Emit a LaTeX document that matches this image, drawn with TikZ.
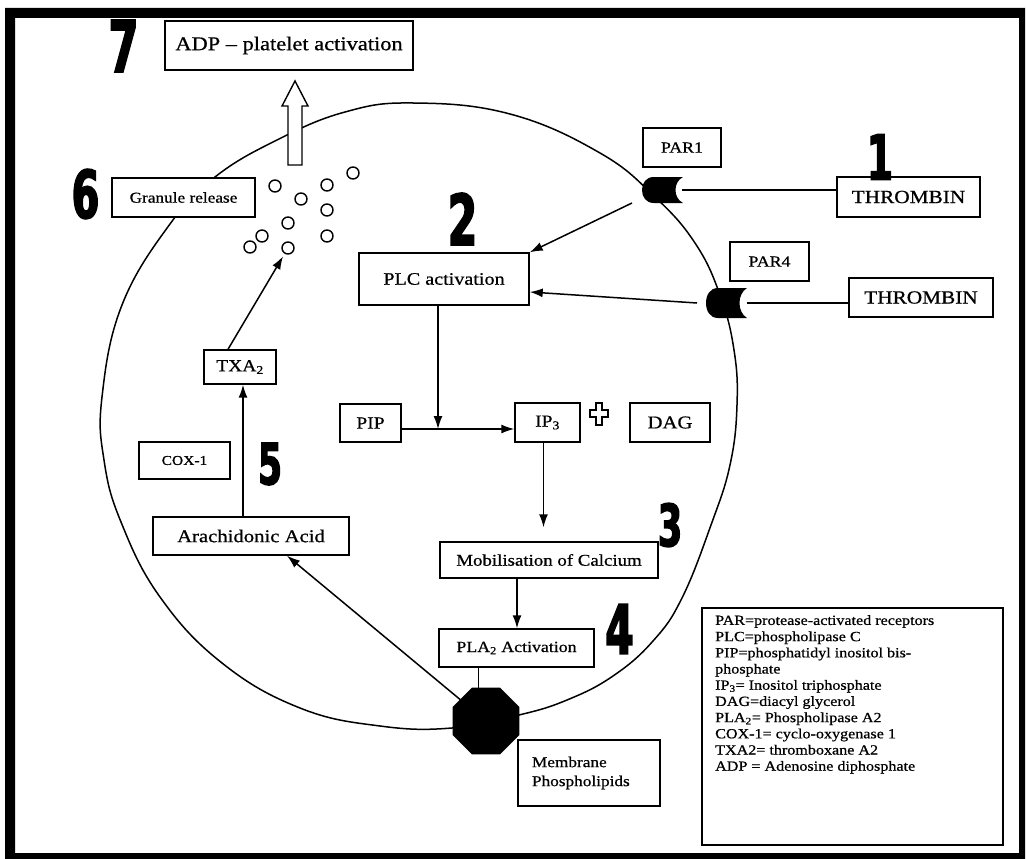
\documentclass[tikz,border=0pt]{standalone}
\usepackage{fontspec}
\setmainfont{Liberation Serif}[FakeStretch=1.15, FakeBold=0.7]
\newfontfamily\numfont{DejaVu Sans}[FakeStretch=0.6, FakeBold=2.5]
\usetikzlibrary{arrows.meta,shapes.geometric}
\newcommand\fs[1]{\fontsize{#1}{#1}\selectfont}
\begin{document}
\begin{tikzpicture}[x=1pt,y=-1pt,
  box/.style={draw, fill=white, line width=1.4pt, inner sep=0pt, align=center},
  arr/.style={-{Latex[length=13pt,width=9pt]}, line width=1.5pt},
  plain/.style={line width=1.5pt},
  gran/.style={circle, draw, line width=1.4pt, minimum size=12pt, inner sep=0pt},
  bignum/.style={inner sep=0pt, font={\numfont\bfseries\fs{#1}}}]
\useasboundingbox (0,0) rectangle (1026,859);
\fill[white] (0,0) rectangle (1026,859);
% frame
\fill[black, even odd rule] (5,8) rectangle (1025,859) (15,18) rectangle (1019,853);

% cell membrane
\draw[line width=1.5pt] plot[smooth cycle, tension=0.7] coordinates {
 (413,103) (510,114) (600,153) (655,197) (695,243) (720,295) (734,350) (737,405)
 (730,465) (711,525) (682,598) (653,641) (613,676) (567,700) (519,715) (452,728)
 (380,726) (300,708) (222,663) (160,597) (121,522) (104,460) (102,397) (122,305)
 (170,224) (215,177) (277,140) (345,112)};

% receptors
\fill (683,177) -- (654,177) .. controls (646,177) and (642,183) .. (642,190)
  .. controls (642,197) and (646,203) .. (654,203) -- (683,203)
  .. controls (673,198) and (673,182) .. (683,177) -- cycle;
\fill (747,288) -- (718,288) .. controls (710,288) and (706,295) .. (706,303)
  .. controls (706,311) and (710,318) .. (718,318) -- (747,318)
  .. controls (737,312) and (737,294) .. (747,288) -- cycle;
\coordinate (r1out) at (682,190);
\coordinate (r1in) at (632,203);
\coordinate (r4out) at (747,303);
\coordinate (r4in) at (697,303);

% boxes
\node[box, minimum width=248pt, minimum height=49pt, font=\fs{19.5}] (adp) at (289,45.5) {ADP – platelet activation};
\node[box, minimum width=143pt, minimum height=39pt, font=\fs{15}] (gran) at (183.5,197.5) {Granule release};
\node[box, minimum width=78pt, minimum height=39pt, font=\fs{15.5}] (par1) at (682,147.5) {PAR1};
\node[box, minimum width=143pt, minimum height=40pt, font=\fs{18.5}] (thr1) at (908.5,197) {THROMBIN};
\node[box, minimum width=79pt, minimum height=39pt, font=\fs{15.5}] (par4) at (769.5,261.5) {PAR4};
\node[box, minimum width=144pt, minimum height=39pt, font=\fs{18.5}] (thr2) at (921,297.5) {THROMBIN};
\node[box, minimum width=170pt, minimum height=52pt, font=\fs{17.5}] (plc) at (444,279) {PLC activation};
\node[box, minimum width=72pt, minimum height=34pt, font=\fs{17}] (txa) at (240,367) {TXA\textsubscript{2}};
\node[box, minimum width=91pt, minimum height=37pt, font=\fs{13.5}] (cox) at (184.5,460.5) {COX-1};
\node[box, minimum width=196pt, minimum height=38pt, font=\fs{18}] (arach) at (251,536) {Arachidonic Acid};
\node[box, minimum width=61pt, minimum height=38pt, font=\fs{17}] (pip) at (370.5,423) {PIP};
\node[box, minimum width=65pt, minimum height=39pt, font=\fs{17}] (ip3) at (547.5,422.5) {IP\textsubscript{3}};
\node[box, minimum width=80pt, minimum height=39pt, font=\fs{18}] (dag) at (670,422.5) {DAG};
\node[box, minimum width=218pt, minimum height=36pt, font=\fs{16.4}] (mob) at (549,560) {Mobilisation of Calcium};
\node[box, minimum width=155pt, minimum height=38pt, font=\fs{15.5}] (pla) at (516.5,648) {PLA\textsubscript{2} Activation};
\node[box, minimum height=66pt, text width=114pt, inner xsep=14pt, align=left, font={\fontsize{15}{19}\selectfont}] (mem) at (589,773) {Membrane\\Phospholipids};
\node[regular polygon, regular polygon sides=8, fill=black, minimum size=72.5pt, inner sep=0pt, outer sep=0pt] (oct) at (486,721) {};

% legend
\node[draw, line width=1.4pt, minimum width=301pt, minimum height=237pt, inner sep=0pt] (legend) at (852.5,726.5) {};
\node[anchor=north west, align=left, inner sep=0pt, font={\fontsize{14}{16.2}\selectfont}] (legtext) at (715,615)
 {PAR=protease-activated receptors\\
  PLC=phospholipase C\\
  PIP=phosphatidyl inositol bis-\\
  phosphate\\
  IP\textsubscript{3}= Inositol triphosphate\\
  DAG=diacyl glycerol\\
  PLA\textsubscript{2}= Phospholipase A2\\
  COX-1= cyclo-oxygenase 1\\
  TXA2= thromboxane A2\\
  ADP = Adenosine diphosphate};

% numbers
\node[bignum=71] (n7) at (123.5,46) {7};
\node[bignum=66] (n6) at (85.5,194) {6};
\node[bignum=62] (n1) at (880,157) {1};
\node[bignum=70] (n2) at (462.5,219) {2};
\node[bignum=58] (n3) at (670,525) {3};
\node[bignum=68] (n4) at (619.5,629) {4};
\node[bignum=57] (n5) at (270,464) {5};

% granules
\foreach \i/\x/\y in {1/275/186, 2/301/199, 3/327/185, 4/353/173, 5/327/210,
  6/288/223, 7/262/236, 8/250/247, 9/288/248, 10/327/236}
  \node[gran] (g\i) at (\x,\y) {};

% hollow release arrow
\draw[line width=1.4pt, fill=white] (295,81) -- (308,106) -- (302,106) -- (302,165)
  -- (288,165) -- (288,106) -- (282,106) -- cycle;

% plus sign
\draw[line width=1.3pt] (596,403) -- (602,403) -- (602,410) -- (608,410) -- (608,417)
  -- (602,417) -- (602,425) -- (596,425) -- (596,417) -- (590,417) -- (590,410)
  -- (596,410) -- cycle;

% connectors
\draw[plain] (r1out) -- (r1out -| thr1.west);
\draw[plain] (r4out) -- (r4out -| thr2.west);
\draw[arr] (r1in) -- (plc.north east);
\draw[arr] (r4in) -- ([yshift=-13pt]plc.east);
\coordinate (pipout) at ([yshift=-6pt]pip.east);
\coordinate (plcout) at ([xshift=-6pt]plc.south);
\coordinate (jn) at (plcout |- pipout);
\draw[arr] (pipout) -- (pipout -| ip3.west);
\draw[arr] (plcout) -- (jn);
\coordinate (ipout) at ([xshift=-4pt]ip3.south);
\coordinate (mobin) at ([yshift=14pt]mob.north);
\draw[arr] (ipout) -- (ipout |- mobin);
\coordinate (mobout) at ([xshift=-32pt]mob.south);
\draw[arr] (mobout) -- (mobout |- pla.north);
\coordinate (plaout) at ([xshift=-38pt]pla.south);
\draw[plain] (plaout) -- (plaout |- oct.north);
\draw[arr] (oct) -- ([xshift=36pt]arach.south);
\coordinate (arout) at ([xshift=-8pt]arach.north);
\draw[arr] (arout) -- (arout |- txa.south);
\draw[arr, shorten >=3pt] ([xshift=-12pt]txa.north) -- (g9);
\end{tikzpicture}
\end{document}
